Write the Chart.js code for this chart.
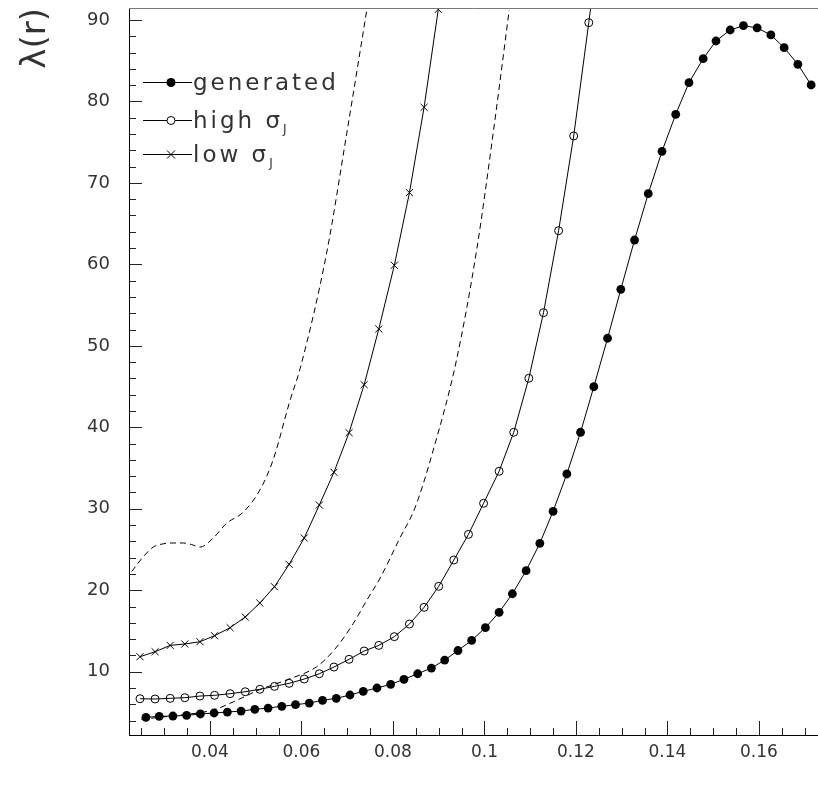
<!DOCTYPE html>
<html><head><meta charset="utf-8">
<script src="https://cdn.jsdelivr.net/npm/chart.js@4.4.0/dist/chart.umd.min.js"></script>
<style>html,body{margin:0;padding:0;background:#fff;overflow:hidden}</style>
</head><body>
<canvas id="c" width="818" height="794"></canvas>
<script>
// ---------------- data ----------------
const genX = [0.0260,0.0289,0.0319,0.0349,0.0379,0.0409,0.0438,0.0468,0.0498,0.0527,0.0557,0.0587,0.0617,0.0646,0.0676,0.0706,0.0735,0.0765,0.0795,0.0824,0.0854,0.0884,0.0913,0.0942,0.0972,0.1002,0.1032,0.1061,0.1091,0.1121,0.1150,0.1180,0.1210,0.1239,0.1269,0.1298,0.1328,0.1358,0.1388,0.1418,0.1447,0.1478,0.1506,0.1537,0.1566,0.1596,0.1626,0.1655,0.1685,0.1714];
const genY = [4.40,4.52,4.56,4.64,4.81,4.93,5.05,5.17,5.38,5.54,5.75,5.95,6.15,6.49,6.73,7.14,7.59,8.00,8.45,9.06,9.75,10.45,11.43,12.6,13.85,15.4,17.29,19.57,22.4,25.76,29.69,34.27,39.39,44.98,50.93,56.94,62.99,68.68,73.88,78.42,82.3,85.25,87.42,88.77,89.3,89.02,88.16,86.6,84.56,82.02];

const highX = [0.0247,0.0280,0.0313,0.0345,0.0378,0.0410,0.0444,0.0477,0.0509,0.0541,0.0573,0.0606,0.0639,0.0671,0.0704,0.0737,0.0769,0.0803,0.0836,0.0868,0.0900,0.0933,0.0965,0.0998,0.1032,0.1064,0.1097,0.1129,0.1162,0.1195,0.1228,0.1260];
const highY = [6.68,6.65,6.73,6.81,7.01,7.10,7.30,7.54,7.84,8.20,8.57,9.10,9.75,10.57,11.52,12.54,13.23,14.30,15.85,17.90,20.48,23.71,26.86,30.67,34.60,39.39,46.02,54.07,64.13,75.76,89.67,104.0];

const lowX = [0.0247,0.0280,0.0313,0.0345,0.0378,0.0410,0.0444,0.0477,0.0509,0.0541,0.0573,0.0606,0.0639,0.0671,0.0704,0.0737,0.0769,0.0803,0.0836,0.0868,0.0899];
const lowY = [11.84,12.45,13.23,13.40,13.68,14.42,15.40,16.71,18.43,20.43,23.18,26.41,30.46,34.48,39.34,45.23,52.07,59.89,68.80,79.28,91.3];

const upperX = [0.0229,0.0254,0.0276,0.0298,0.0320,0.0342,0.0360,0.0378,0.0407,0.0436,0.0473,0.0509,0.0538,0.0575,0.0597,0.0655,0.0699,0.0743];
const upperY = [22.3,24.1,25.3,25.7,25.8,25.8,25.6,25.3,26.4,28.2,29.6,32.3,36.0,43.3,47.2,61.4,76.1,91.3];

const lowerX = [0.0250,0.0320,0.0407,0.0451,0.0509,0.0568,0.0633,0.0672,0.0713,0.0743,0.0772,0.0815,0.0848,0.0888,0.0939,0.0983,0.1019,0.1054];
const lowerY = [4.15,4.6,5.3,6.3,7.8,9.0,10.6,12.7,15.9,18.8,21.5,26.4,30.1,37.2,48.3,61.8,76.1,91.2];

const xTickLabels = [0.04,0.06,0.08,0.1,0.12,0.14,0.16];
const yTickLabels = [10,20,30,40,50,60,70,80,90];
const seriesNames = ['generated','high σ','low σ'];
const seriesSubs  = ['','J','J'];
const yTitle = 'λ(r)';

// ---------------- styling ----------------
const FONT = "'DejaVu Sans',sans-serif";
const TEXT = '#333';
const X_MIN = 0.0223, X_MAX = 0.1729, Y_MIN = 2.23, Y_MAX = 91.47;
const X_MINOR = 0.005, Y_MINOR = 2;

const pts = (xs, ys) => xs.map((x, i) => ({x, y: ys[i]}));

const ticksPlugin = {
  id: 'rootTicks',
  afterDraw(chart) {
    const {ctx, chartArea: a, scales: {x, y}} = chart;
    ctx.save();
    ctx.lineWidth = 1;
    ctx.strokeStyle = '#777';
    ctx.beginPath(); ctx.moveTo(a.left, a.top + 0.5); ctx.lineTo(a.right, a.top + 0.5); ctx.stroke();
    ctx.strokeStyle = '#222';
    ctx.beginPath();
    const xStart = Math.ceil(X_MIN / X_MINOR);
    for (let k = xStart; k * X_MINOR <= X_MAX; k++) {
      const v = k * X_MINOR;
      const major = (k % 4) === 0;
      const px = Math.round(x.getPixelForValue(v)) + 0.5;
      ctx.moveTo(px, a.bottom); ctx.lineTo(px, a.bottom - (major ? 14 : 7));
    }
    const yStart = Math.ceil(Y_MIN / Y_MINOR);
    for (let k = yStart; k * Y_MINOR <= Y_MAX; k++) {
      const v = k * Y_MINOR;
      const major = (k % 5) === 0;
      const py = Math.round(y.getPixelForValue(v)) + 0.5;
      ctx.moveTo(a.left, py); ctx.lineTo(a.left + (major ? 13 : 7), py);
    }
    ctx.stroke();
    ctx.restore();
  }
};

const legendPlugin = {
  id: 'rootLegend',
  afterDraw(chart) {
    const ctx = chart.ctx;
    const rows = [82, 120, 154];
    const styles = ['filled', 'open', 'cross'];
    ctx.save();
    ctx.strokeStyle = '#000'; ctx.lineWidth = 1;
    rows.forEach((yy, i) => {
      ctx.fillStyle = '#000';
      ctx.beginPath(); ctx.moveTo(143, yy + 0.5); ctx.lineTo(192, yy + 0.5); ctx.stroke();
      const mx = 171, my = yy + 0.5;
      if (styles[i] === 'filled') { ctx.beginPath(); ctx.arc(mx, my, 4.5, 0, Math.PI * 2); ctx.fill(); }
      else if (styles[i] === 'open') { ctx.fillStyle = '#fff'; ctx.beginPath(); ctx.arc(mx, my, 4, 0, Math.PI * 2); ctx.fill(); ctx.stroke(); }
      else { ctx.beginPath(); ctx.moveTo(mx - 4, my - 4); ctx.lineTo(mx + 4, my + 4); ctx.moveTo(mx - 4, my + 4); ctx.lineTo(mx + 4, my - 4); ctx.stroke(); }
      ctx.fillStyle = TEXT;
      ctx.font = '23px ' + FONT;
      ctx.textBaseline = 'alphabetic';
      ctx.textAlign = 'left';
      try { ctx.letterSpacing = '3px'; } catch (e) {}
      const tx = 193, ty = yy + 8;
      ctx.fillText(seriesNames[i], tx, ty);
      if (seriesSubs[i]) {
        const w = ctx.measureText(seriesNames[i]).width;
        try { ctx.letterSpacing = '0px'; } catch (e) {}
        ctx.font = '12px ' + FONT;
        ctx.fillText(seriesSubs[i], tx + w, ty + 5);
      }
    });
    ctx.restore();
  }
};

new Chart(document.getElementById('c'), {
  type: 'scatter',
  data: {
    datasets: [
      { label: seriesNames[0], data: pts(genX, genY), showLine: true, borderColor: '#000', borderWidth: 1,
        pointStyle: 'circle', pointRadius: 4.4, pointBackgroundColor: '#000', pointBorderColor: '#000', pointBorderWidth: 0 },
      { label: seriesNames[1] + 'J', data: pts(highX, highY), showLine: true, borderColor: '#000', borderWidth: 1,
        pointStyle: 'circle', pointRadius: 4, pointBackgroundColor: 'rgba(0,0,0,0)', pointBorderColor: '#000', pointBorderWidth: 1 },
      { label: seriesNames[2] + 'J', data: pts(lowX, lowY), showLine: true, borderColor: '#000', borderWidth: 1,
        pointStyle: 'crossRot', pointRadius: 5, pointBorderColor: '#000', pointBorderWidth: 1 },
      { label: 'upper', data: pts(upperX, upperY), showLine: true, borderColor: '#000', borderWidth: 1,
        borderDash: [6, 4], pointRadius: 0, cubicInterpolationMode: 'monotone' },
      { label: 'lower', data: pts(lowerX, lowerY), showLine: true, borderColor: '#000', borderWidth: 1,
        borderDash: [6, 4], pointRadius: 0, cubicInterpolationMode: 'monotone' }
    ]
  },
  options: {
    responsive: false,
    animation: false,
    devicePixelRatio: 1,
    layout: { autoPadding: false, padding: { top: 8, left: 0, right: 0, bottom: 0 } },
    plugins: { legend: { display: false }, tooltip: { enabled: false } },
    scales: {
      x: {
        type: 'linear', min: X_MIN, max: X_MAX,
        afterBuildTicks: s => { s.ticks = xTickLabels.map(v => ({value: v})); },
        afterFit: s => { s.height = 59; s.paddingLeft = 0; s.paddingRight = 0; },
        grid: { display: true, drawOnChartArea: false, drawTicks: false },
        border: { display: true, color: '#000', width: 1 },
        ticks: { padding: 7, color: TEXT, font: { family: FONT, size: 17 }, maxRotation: 0, autoSkip: false,
                 callback: v => String(Number(v.toFixed(2))) }
      },
      y: {
        type: 'linear', min: Y_MIN, max: Y_MAX,
        afterBuildTicks: s => { s.ticks = yTickLabels.map(v => ({value: v})); },
        afterFit: s => { s.width = 129; s.paddingTop = 0; s.paddingBottom = 0; },
        grid: { display: true, drawOnChartArea: false, drawTicks: false },
        border: { display: true, color: '#000', width: 1 },
        ticks: { padding: 19, color: TEXT, font: { family: FONT, size: 18 }, autoSkip: false },
        title: { display: true, text: yTitle, align: 'end', color: TEXT, font: { family: FONT, size: 34 }, padding: { top: 16, bottom: 0 } }
      }
    }
  },
  plugins: [ticksPlugin, legendPlugin]
});
</script>
</body></html>
